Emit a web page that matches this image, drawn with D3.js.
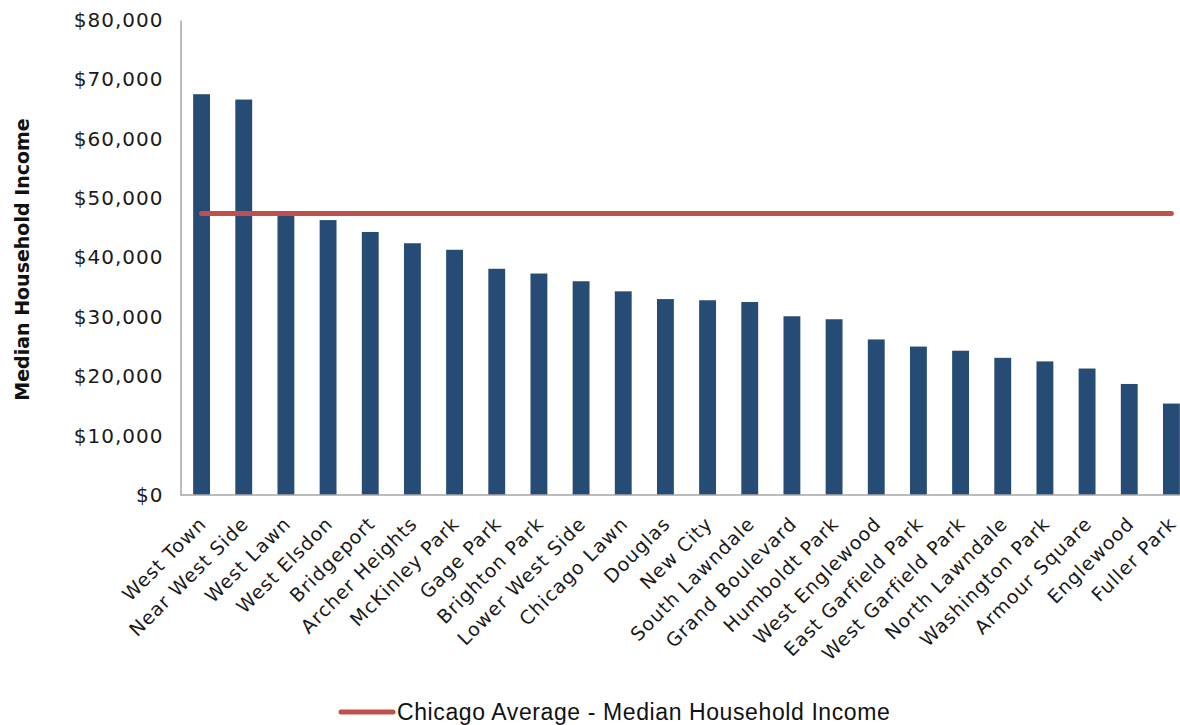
<!DOCTYPE html>
<html>
<head>
<meta charset="utf-8">
<script src="https://cdn.jsdelivr.net/npm/d3@7"></script>
<style>
  body { margin: 0; background: #fff; }
  svg { display: block; }
</style>
</head>
<body>
<svg id="chart" width="1180" height="725"></svg>
<script>
const categories = ["West Town","Near West Side","West Lawn","West Elsdon","Bridgeport","Archer Heights","McKinley Park","Gage Park","Brighton Park","Lower West Side","Chicago Lawn","Douglas","New City","South Lawndale","Grand Boulevard","Humboldt Park","West Englewood","East Garfield Park","West Garfield Park","North Lawndale","Washington Park","Armour Square","Englewood","Fuller Park"];
const incomes = [67500,66600,47100,46300,44300,42400,41300,38100,37300,36000,34300,33000,32800,32500,30100,29600,26200,25000,24300,23100,22500,21300,18700,15400];
const chicagoAverage = 47400;
const yTicks = [0,10000,20000,30000,40000,50000,60000,70000,80000];
const yTitle = "Median Household Income";
const legendLabel = "Chicago Average - Median Household Income";

const svg = d3.select("#chart");
const W = 1180, H = 725;
const m = {left: 180.5, top: 20, bottom: 230};
const x = d3.scaleBand().domain(categories).range([m.left, 1192.5]).paddingInner(0.6).paddingOuter(0.3);
const y = d3.scaleLinear().domain([0, 80000]).range([H - m.bottom, m.top]);

const fmt = v => "$" + d3.format(",")(v);

// bars
svg.append("g").selectAll("rect").data(categories).join("rect")
  .attr("x", d => x(d))
  .attr("width", x.bandwidth())
  .attr("y", (d, i) => y(incomes[i]))
  .attr("height", (d, i) => y(0) - y(incomes[i]))
  .attr("fill", "#264C75");

// average line
svg.append("line")
  .attr("x1", x(categories[0]) + x.bandwidth() / 2)
  .attr("x2", x(categories[categories.length - 1]) + x.bandwidth() / 2)
  .attr("y1", y(chicagoAverage)).attr("y2", y(chicagoAverage))
  .attr("stroke", "#C0504D").attr("stroke-width", 5).attr("stroke-linecap", "round");

// y axis
const yAxis = d3.axisLeft(y).tickValues(yTicks).tickFormat(fmt).tickSize(0).tickPadding(17);
const gy = svg.append("g").attr("transform", `translate(${m.left},0)`).call(yAxis);
gy.select(".domain").attr("stroke", "#A6A6A6").attr("stroke-width", 1.5);
gy.selectAll("text").attr("font-family", "DejaVu Sans").attr("font-size", 20).attr("fill", "#1a1a1a").attr("letter-spacing", "1px");

// x axis
const xAxis = d3.axisBottom(x).tickSize(0).tickPadding(0);
const gx = svg.append("g").attr("transform", `translate(0,${y(0)})`).call(xAxis);
gx.select(".domain").attr("stroke", "#A6A6A6").attr("stroke-width", 1.5).attr("d", `M${m.left},0H${W}`);
gx.selectAll("text")
  .attr("font-family", "DejaVu Sans").attr("font-size", 19).attr("fill", "#1a1a1a")
  .attr("letter-spacing", "1px")
  .attr("text-anchor", "end")
  .attr("dy", null).attr("y", null)
  .attr("transform", "translate(6,30) rotate(-45)");

// y title
svg.append("text")
  .attr("transform", `translate(29,${(y(0) + y(80000)) / 2 + 2}) rotate(-90)`)
  .attr("text-anchor", "middle")
  .attr("font-family", "DejaVu Sans").attr("font-weight", "bold").attr("font-size", 19)
  .attr("fill", "#111")
  .text(yTitle);

// legend
const lg = svg.append("g").attr("transform", "translate(0,712)");
lg.append("line").attr("x1", 341).attr("x2", 393).attr("y1", 0).attr("y2", 0)
  .attr("stroke", "#C0504D").attr("stroke-width", 5).attr("stroke-linecap", "round");
lg.append("text").attr("x", 397).attr("y", 8)
  .attr("font-family", "Liberation Sans").attr("font-size", 23).attr("fill", "#111")
  .attr("letter-spacing", "0.6px")
  .text(legendLabel);
</script>
</body>
</html>
